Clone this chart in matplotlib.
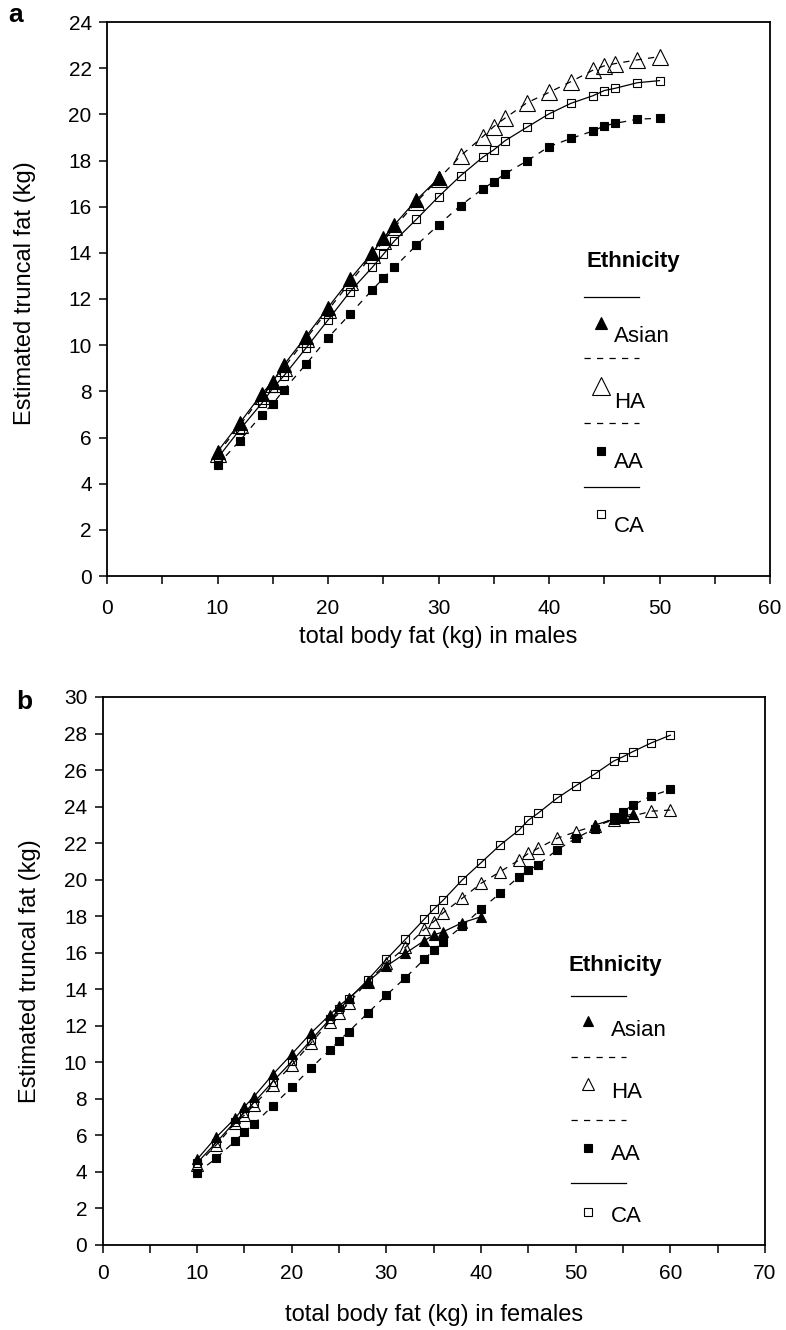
import numpy as np
import matplotlib
matplotlib.use('Agg')
import matplotlib.pyplot as plt
from matplotlib.lines import Line2D
from matplotlib.ticker import MultipleLocator

plt.rcParams['font.family'] = ['Liberation Sans', 'DejaVu Sans']

W, H = 786, 1330
nan = np.nan

# panel a: males
x_male = [10, 12, 14, 15, 16, 18, 20, 22, 24, 25, 26, 28, 30,
          32, 34, 35, 36, 38, 40, 42, 44, 45, 46, 48, 50]
male_asian = [5.39, 6.62, 7.89, 8.42, 9.14, 10.37, 11.63, 12.86, 14.0, 14.63, 15.21, 16.29, 17.23]
male_ha = [5.3, 6.52, 7.78, 8.32, 9.02, 10.27, 11.52, 12.72, 13.9, 14.5, 15.1, 16.2, 17.2,
           18.2, 19.03, 19.47, 19.83, 20.5, 20.95, 21.42, 21.92, 22.1, 22.2, 22.36, 22.5]
male_aa = [4.81, 5.85, 6.98, 7.45, 8.06, 9.17, 10.32, 11.35, 12.39, 12.9, 13.37, 14.33, 15.21,
           16.05, 16.77, 17.08, 17.42, 17.98, 18.6, 18.96, 19.28, 19.5, 19.61, 19.79, 19.83]
male_ca = [5.1, 6.33, 7.48, 8.13, 8.67, 9.87, 11.09, 12.32, 13.37, 13.93, 14.51, 15.45, 16.43,
           17.34, 18.14, 18.46, 18.85, 19.44, 20.02, 20.48, 20.81, 21.03, 21.13, 21.37, 21.46]

# panel b: females
x_female = [10, 12, 14, 15, 16, 18, 20, 22, 24, 25, 26, 28, 30, 32, 34, 35, 36, 38, 40,
            42, 44, 45, 46, 48, 50, 52, 54, 55, 56, 58, 60]
female_asian = [4.69, 5.89, 6.93, 7.57, 8.12, 9.34, 10.45, 11.59, 12.59, 13.1, 13.5, 14.4, 15.27,
                15.97, 16.66, 16.97, 17.15, 17.64, 17.97,
                nan, nan, nan, nan, nan, nan, 22.99, 23.3, 23.45, 23.6, nan, nan]
female_ha = [4.4, 5.47, 6.66, 7.12, 7.66, 8.76, 9.85, 11.04, 12.22, 12.68, 13.23, 14.41, 15.42,
             16.29, 17.28, 17.7, 18.19, 18.98, 19.8, 20.43, 21.07, 21.44, 21.71, 22.26, 22.62,
             22.95, 23.26, 23.41, 23.48, 23.75, 23.81]
female_aa = [3.96, 4.74, 5.69, 6.2, 6.62, 7.63, 8.63, 9.67, 10.67, 11.18, 11.68, 12.68, 13.68,
             14.63, 15.64, 16.15, 16.6, 17.45, 18.39, 19.25, 20.16, 20.53, 20.8, 21.62, 22.26,
             22.8, 23.41, 23.72, 24.08, 24.58, 24.94]
female_ca = [4.5, 5.6, 6.75, 7.25, 7.8, 8.95, 10.05, 11.2, 12.35, 12.9, 13.45, 14.5, 15.64,
             16.73, 17.84, 18.39, 18.88, 19.98, 20.93, 21.89, 22.71, 23.26, 23.63, 24.45, 25.14,
             25.78, 26.49, 26.73, 27.0, 27.49, 27.91]

groups = ['Asian', 'HA', 'AA', 'CA']
markers = ['^', '^', 's', 's']
filled = [True, False, True, False]
DASH = (0, (5, 5))
styles = ['-', DASH, DASH, '-']

LW = 0.9
MEW = 0.8


def fig_xy(px, py):
    return px / W, 1 - py / H


def draw_panel(ax, x, series, sizes, xmax, ymax, xlabel, xpad, xlab_y, ylab_x, ylab_y):
    for vals, mk, fill, ls, ms in zip(series, markers, filled, styles, sizes):
        ax.plot(x[:len(vals)], vals, color='black', lw=LW, linestyle=ls,
                marker=mk, ms=ms, mfc='black' if fill else 'none', mec='black', mew=MEW)
    ax.set_xlim(0, xmax)
    ax.set_ylim(0, ymax)
    ax.xaxis.set_major_locator(MultipleLocator(10))
    ax.xaxis.set_minor_locator(MultipleLocator(5))
    ax.yaxis.set_major_locator(MultipleLocator(2))
    ax.tick_params(which='both', direction='out', length=6, width=1.1, colors='black')
    ax.tick_params(axis='x', labelsize=15, pad=xpad)
    ax.tick_params(axis='y', labelsize=15, pad=5)
    for sp in ax.spines.values():
        sp.set_linewidth(1.3)
    ax.set_xlabel(xlabel, fontsize=17)
    ax.xaxis.label.set_va('center')
    ax.xaxis.set_label_coords(0.5, xlab_y)
    ax.set_ylabel('Estimated truncal fat (kg)', fontsize=17)
    ax.yaxis.label.set_va('center')
    ax.yaxis.set_label_coords(ylab_x, ylab_y)


def draw_legend(fig, title_xy, line_x, line_ys, mark_x, mark_ys, text_x, text_ys, sizes):
    fig.text(*fig_xy(*title_xy), 'Ethnicity', fontsize=16, fontweight='bold',
             ha='left', va='center')
    for ly, my, ty, name, mk, fill, ls, ms in zip(line_ys, mark_ys, text_ys, groups,
                                                   markers, filled, styles, sizes):
        x0, y0 = fig_xy(line_x[0], ly)
        x1, _ = fig_xy(line_x[1], ly)
        fig.add_artist(Line2D([x0, x1], [y0, y0], transform=fig.transFigure,
                              color='black', lw=LW, linestyle=ls))
        mx, myf = fig_xy(mark_x, my)
        fig.add_artist(Line2D([mx], [myf], transform=fig.transFigure, linestyle='none',
                              marker=mk, ms=ms, mfc='black' if fill else 'none',
                              mec='black', mew=MEW))
        fig.text(*fig_xy(text_x, ty), name, fontsize=16, ha='left', va='center')


fig = plt.figure(figsize=(W / 100, H / 100), dpi=100)

ax_a = fig.add_axes([107 / W, 1 - 576 / H, (770 - 107) / W, (576 - 22) / H])
ax_b = fig.add_axes([102.5 / W, 1 - 1245 / H, (765 - 102.5) / W, (1245 - 697) / H])

sizes_a = [10, 11.5, 5.5, 6]
sizes_b = [7.5, 8.5, 5.5, 6]

draw_panel(ax_a, x_male, [male_asian, male_ha, male_aa, male_ca], sizes_a, 60, 24,
           'total body fat (kg) in males', 10.5, -0.11, -0.124, 0.51)
draw_panel(ax_b, x_female, [female_asian, female_ha, female_aa, female_ca], sizes_b, 70, 30,
           'total body fat (kg) in females', 8, -0.128, -0.11, 0.5)

draw_legend(fig, (586, 261), (584, 639), [297, 358, 423, 487], 601, [323, 386, 451, 514],
            614, [336, 402, 463, 527], [8, 13, 5.5, 6])
draw_legend(fig, (569, 965), (571, 626), [996, 1057, 1120, 1183], 588, [1021, 1084, 1148, 1212],
            611, [1030, 1093, 1155, 1217], [7.5, 9, 5.5, 6])

fig.text(*fig_xy(16, 15), 'a', fontsize=19, fontweight='bold', ha='center', va='center')
fig.text(*fig_xy(24, 702), 'b', fontsize=19, fontweight='bold', ha='center', va='center')

fig.savefig('out.png', dpi=100)
